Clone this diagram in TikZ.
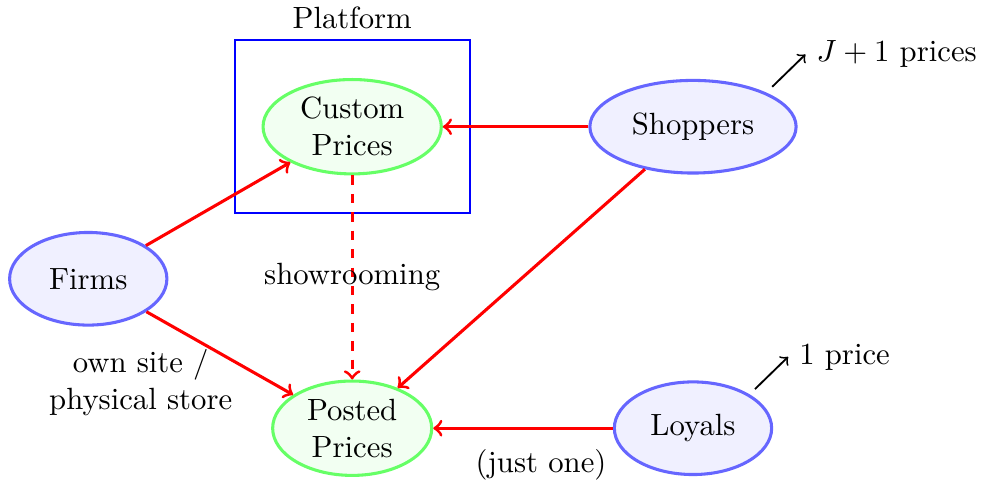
\documentclass[tikz,border=0pt]{standalone}
\usepackage{amsmath,amsfonts}
\usepackage{xcolor}
\usepackage{tikz}
\usetikzlibrary{arrows,shapes}

\tikzset{
  agent/.style={ellipse, line width=1pt, draw=blue!60, fill=blue!6, inner sep=0pt,
    minimum height=1.06cm, minimum width=1.8cm, align=center},
  prices/.style={ellipse, line width=1pt, draw=green!60, fill=green!5, inner sep=0pt,
    minimum height=1.08cm, minimum width=1.82cm, align=center},
  flow/.style={->, line width=1pt, red},
}

\begin{document}
\begin{tikzpicture}
      \useasboundingbox (0,0) rectangle (11.26,5.56);
      % platform box
      \node[draw=blue, semithick, minimum width=2.69cm, minimum height=1.98cm]
            (platform) at (4.03,4.11) {};
      \node[above] (platlbl) at (platform.north) {Platform};
      % nodes
      \node[prices, minimum width=2.04cm] (custom) at (4.03,4.11) {Custom\\Prices};
      \node[prices] (posted) at (4.03,0.66) {Posted\\Prices};
      \node[agent] (firms) at (1.01,2.37) {Firms};
      \node[agent, minimum width=2.36cm] (shop) at (7.93,4.11) {Shoppers};
      \node[agent] (loyal) at (7.93,0.66) {Loyals};
      % flows
      \draw[flow] (firms) -- (custom);%
      \draw[flow] (firms) -- (posted);%
      \draw[flow] (shop) -- (custom);%
      \draw[flow] (shop) -- (posted);%
      \draw[flow, dashed] (custom) -- (posted) node[midway, text=black] (showr) {showrooming};%
      \draw[flow] (loyal) -- (posted) node[pos=0.4, below=3pt, text=black] (justone) {(just one)};%
      \node[align=center] (site) at (1.61,1.18) {own site /\\physical store};
      % price counts
      \draw[->, semithick] ([shift={(0.06,0.07)}]shop.north east) -- ++(0.38,0.37)
            node[right] (jprices) {$J+1$ prices};%
      \draw[->, semithick] ([shift={(0.06,0.06)}]loyal.north east) -- ++(0.38,0.37)
            node[right] (oneprice) {1 price};%
\end{tikzpicture}
\end{document}
